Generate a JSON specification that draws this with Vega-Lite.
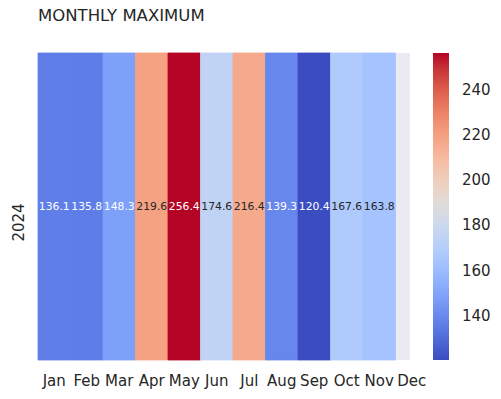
{
  "$schema": "https://vega.github.io/schema/vega-lite/v6.json",
  "autosize": {"type": "none"},
  "padding": {"left": 38, "top": 53, "right": 91, "bottom": 39},
  "width": 372,
  "height": 307,
  "background": "white",
  "title": {"text": "MONTHLY MAXIMUM", "anchor": "start", "frame": "group", "fontSize": 16.5, "fontWeight": "normal", "font": "DejaVu Sans", "color": "#262626", "offset": 28},
  "data": {"values": [
    {"year": "2024", "month": "Jan", "value": 136.1},
    {"year": "2024", "month": "Feb", "value": 135.8},
    {"year": "2024", "month": "Mar", "value": 148.3},
    {"year": "2024", "month": "Apr", "value": 219.6},
    {"year": "2024", "month": "May", "value": 256.4},
    {"year": "2024", "month": "Jun", "value": 174.6},
    {"year": "2024", "month": "Jul", "value": 216.4},
    {"year": "2024", "month": "Aug", "value": 139.3},
    {"year": "2024", "month": "Sep", "value": 120.4},
    {"year": "2024", "month": "Oct", "value": 167.6},
    {"year": "2024", "month": "Nov", "value": 163.8},
    {"year": "2024", "month": "Dec", "value": null}
  ]},
  "transform": [{"filter": "datum.value != null"}],
  "encoding": {
    "x": {"field": "month", "type": "nominal", "sort": null,
      "scale": {"domain": ["Jan","Feb","Mar","Apr","May","Jun","Jul","Aug","Sep","Oct","Nov","Dec"], "range": [0, 390], "paddingInner": 0, "paddingOuter": 0},
      "axis": {"title": null, "labelAngle": 0, "domain": false, "ticks": false, "tickSize": 0, "labelPadding": 13, "labelFontSize": 15, "labelFont": "DejaVu Sans", "labelColor": "#262626"}},
    "y": {"field": "year", "type": "nominal",
      "scale": {"paddingInner": 0, "paddingOuter": 0},
      "axis": {"title": null, "labelAngle": 270, "domain": false, "ticks": false, "tickSize": 0, "labelPadding": 12, "labelOffset": 16, "labelFontSize": 15, "labelFont": "DejaVu Sans", "labelColor": "#262626"}}
  },
  "layer": [
    {
      "mark": {"type": "rect", "strokeWidth": 0.8},
      "encoding": {
        "color": {"field": "value", "type": "quantitative",
          "scale": {"type": "linear", "interpolate": "rgb",
            "domain": [120.4, 128.9, 137.4, 145.9, 154.4, 162.9, 171.4, 179.9, 188.4, 196.9, 205.4, 213.9, 222.4, 230.9, 239.4, 247.9, 256.4],
            "range": ["#3b4cc0", "#4d68d7", "#6282ea", "#779af7", "#8db0fe", "#a3c2ff", "#b8d0f9", "#ccd9ee", "#dddddd", "#ecd3c5", "#f5c4ad", "#f7b194", "#f49a7b", "#ec7f63", "#de604d", "#cb3e38", "#b40426"]},
          "legend": {"title": null, "orient": "right", "offset": 23, "direction": "vertical", "gradientLength": 307, "gradientThickness": 16, "gradientStrokeWidth": 0, "values": [140, 160, 180, 200, 220, 240], "labelFontSize": 15, "labelFont": "DejaVu Sans", "labelColor": "#262626", "labelOffset": 13, "labelOverlap": false, "padding": 0}},
        "stroke": {"field": "value", "type": "quantitative",
          "scale": {"type": "linear", "interpolate": "rgb",
            "domain": [120.4, 128.9, 137.4, 145.9, 154.4, 162.9, 171.4, 179.9, 188.4, 196.9, 205.4, 213.9, 222.4, 230.9, 239.4, 247.9, 256.4],
            "range": ["#3b4cc0", "#4d68d7", "#6282ea", "#779af7", "#8db0fe", "#a3c2ff", "#b8d0f9", "#ccd9ee", "#dddddd", "#ecd3c5", "#f5c4ad", "#f7b194", "#f49a7b", "#ec7f63", "#de604d", "#cb3e38", "#b40426"]},
          "legend": null}
      }
    },
    {
      "mark": {"type": "text", "fontSize": 10.8, "font": "DejaVu Sans"},
      "encoding": {
        "text": {"field": "value", "type": "quantitative", "format": ".1f"},
        "color": {"condition": {"test": "datum.value < 155 || datum.value > 240", "value": "white"}, "value": "#262626"}
      }
    }
  ],
  "resolve": {"legend": {"stroke": "independent"}},
  "config": {"view": {"fill": "#EAEAF2", "stroke": null}}
}
